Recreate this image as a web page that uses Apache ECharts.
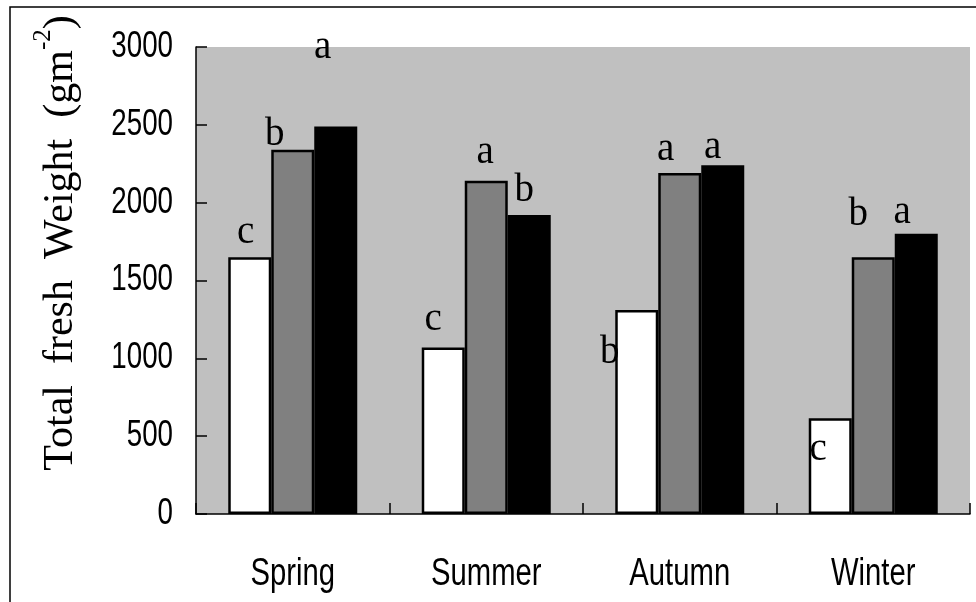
<!DOCTYPE html>
<html>
<head>
<meta charset="utf-8">
<script src="https://cdn.jsdelivr.net/npm/echarts@6/dist/echarts.min.js"></script>
<style>
  html, body { margin: 0; padding: 0; background: #fff; }
  #chart { width: 976px; height: 602px; }
</style>
</head>
<body>
<div id="chart"></div>
<script>
// Seasonal total fresh weight (g m^-2) for three treatments
const seasons = ['Spring', 'Summer', 'Autumn', 'Winter'];
const whiteValues = [1650, 1070, 1310, 615];
const grayValues = [2340, 2140, 2190, 1650];
const blackValues = [2490, 1920, 2240, 1800];

// Significance letters shown over each bar
const whiteLetters = ['c', 'c', 'b', 'c'];
const grayLetters = ['b', 'a', 'a', 'b'];
const blackLetters = ['a', 'b', 'a', 'a'];

// Value axis tick labels
const yTickLabels = ['0', '500', '1000', '1500', '2000', '2500', '3000'];
const yStep = 500;

// Hand placement of the letters relative to each bar top ([dx, dy] in px)
const letterNudge = {
  white: [[-4, 0], [-10, -3.5], [-27, 67.5], [-12, 55.5]],
  gray: [[-18, 10], [-1, -3.5], [-14, 1.5], [-15, -17.5]],
  black: [[-13, -54.5], [-5, 0.5], [-10, 6.5], [-14, 3.5]]
};

const sans = '"Liberation Sans", Arial, sans-serif';
const serif = '"Liberation Serif", "Times New Roman", serif';
// Tick text is drawn horizontally squeezed, like a narrow face
const NARROW = 0.77;

function makeSeries(name, values, letters, nudge, color) {
  return {
    name: name,
    type: 'bar',
    barWidth: 43,
    barGap: '0%',
    itemStyle: { color: color, borderColor: '#000', borderWidth: 2.5 },
    data: values.map((v, i) => ({
      value: v,
      label: {
        show: true,
        position: 'top',
        distance: 5,
        offset: nudge[i],
        formatter: letters[i],
        fontFamily: serif,
        fontSize: 39,
        color: '#000'
      }
    }))
  };
}

const chart = echarts.init(document.getElementById('chart'), null, { renderer: 'canvas' });

const baseGraphics = [
  {
    type: 'rect',
    silent: true,
    shape: { x: 10, y: 7, width: 1000, height: 700 },
    style: { fill: 'none', stroke: '#000', lineWidth: 1.5 }
  },
  {
    type: 'text',
    silent: true,
    x: 61,
    y: 243,
    rotation: Math.PI / 2,
    style: {
      text: '{a|Total  fresh  Weight  (gm}{s|-2}{a|)}',
      align: 'center',
      verticalAlign: 'middle',
      fill: '#000',
      rich: {
        a: { fontFamily: serif, fontSize: 42, lineHeight: 60, fill: '#000' },
        s: { fontFamily: serif, fontSize: 25, lineHeight: 25, verticalAlign: 'top', fill: '#000' }
      }
    }
  }
];

chart.setOption({
  animation: false,
  backgroundColor: '#fff',
  grid: {
    left: 196, right: 6, top: 47, bottom: 88,
    show: true, backgroundColor: '#c0c0c0', borderWidth: 0
  },
  xAxis: {
    type: 'category',
    data: seasons,
    boundaryGap: true,
    axisLine: { show: true, lineStyle: { color: '#000', width: 1.5 } },
    axisTick: { show: true, inside: true, length: 11, alignWithLabel: false, lineStyle: { color: '#000', width: 1.5 } },
    axisLabel: { show: false },
    splitLine: { show: false }
  },
  yAxis: {
    type: 'value',
    min: Number(yTickLabels[0]),
    max: Number(yTickLabels[yTickLabels.length - 1]),
    interval: yStep,
    axisLine: { show: true, lineStyle: { color: '#000', width: 1.5 } },
    axisTick: { show: true, inside: true, length: 11, lineStyle: { color: '#000', width: 1.5 } },
    axisLabel: { show: false },
    splitLine: { show: false }
  },
  series: [
    makeSeries('white', whiteValues, whiteLetters, letterNudge.white, '#ffffff'),
    makeSeries('gray', grayValues, grayLetters, letterNudge.gray, '#808080'),
    makeSeries('black', blackValues, blackLetters, letterNudge.black, '#000000')
  ],
  graphic: baseGraphics
});

// Tick labels placed through the axes' own pixel mapping
const zeroY = chart.convertToPixel({ yAxisIndex: 0 }, 0);
const yAxisX = chart.getModel().getComponent('grid').coordinateSystem.getRect().x;

const tickGraphics = [];
seasons.forEach(function (s) {
  tickGraphics.push({
    type: 'text',
    silent: true,
    x: chart.convertToPixel({ xAxisIndex: 0 }, s),
    y: zeroY + 61,
    scaleX: NARROW,
    style: { text: s, fontFamily: sans, fontSize: 38, fill: '#000', align: 'center', verticalAlign: 'middle' }
  });
});
yTickLabels.forEach(function (t) {
  tickGraphics.push({
    type: 'text',
    silent: true,
    x: yAxisX - 23,
    y: chart.convertToPixel({ yAxisIndex: 0 }, Number(t)),
    scaleX: NARROW,
    style: { text: t, fontFamily: sans, fontSize: 36, fill: '#000', align: 'right', verticalAlign: 'middle' }
  });
});

chart.setOption({ graphic: baseGraphics.concat(tickGraphics) });
</script>
</body>
</html>
